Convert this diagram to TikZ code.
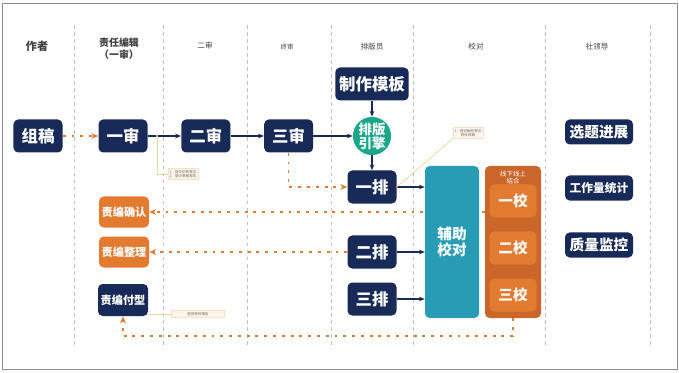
\documentclass[tikz,border=0pt]{standalone}
\usepackage{fontspec}
\newfontfamily\cjk{Noto Sans CJK SC}
\usepackage{xcolor}
\usetikzlibrary{positioning,arrows.meta}
\definecolor{pubnavy}{RGB}{24,42,88}
\definecolor{pubgreen}{RGB}{28,166,138}
\definecolor{pubteal}{RGB}{40,156,180}
\definecolor{puborange}{RGB}{226,122,48}
\definecolor{puborangedk}{RGB}{202,102,42}
\definecolor{pubnote}{RGB}{232,214,160}

\begin{document}
\begin{tikzpicture}[x=0.03cm,y=-0.03cm,node distance=1cm,>={Stealth[length=5pt,width=4pt]},font=\cjk]
\tikzstyle{box}=[fill=pubnavy,text=white,rounded corners=4pt,minimum width=1.47cm,minimum height=0.99cm,align=center,font=\cjk\bfseries\fontsize{14}{16}\selectfont]
\tikzstyle{sidebox}=[fill=pubnavy,text=white,rounded corners=4pt,minimum width=2.04cm,minimum height=0.75cm,inner sep=1pt]
\tikzstyle{edbox}=[fill=puborange,text=white,rounded corners=4pt,minimum width=1.5cm,minimum height=0.93cm,inner sep=1pt,font=\cjk\bfseries\fontsize{9.5}{11}\selectfont]
\tikzstyle{jiao}=[fill=puborange,text=white,rounded corners=4pt,minimum width=1.41cm,minimum height=0.99cm,font=\cjk\bfseries\fontsize{12.5}{14}\selectfont]
\tikzstyle{head}=[text=black!75,align=center]
\tikzstyle{lane}=[draw=black!25,dashed,line width=0.4pt]
\tikzstyle{navy}=[draw=pubnavy,line width=1pt,->]
\tikzstyle{flow}=[draw=puborange,line width=1.4pt,dash pattern=on 2.5pt off 5pt,-{Stealth[length=6pt,width=5pt]},color=puborange]
\tikzstyle{note}=[fill=orange!7,draw=orange!25,line width=0.3pt,inner sep=1.5pt,align=left,text=black!60,font=\cjk\fontsize{3}{3.6}\selectfont]
\tikzstyle{noteline}=[draw=pubnote,line width=0.6pt]
\useasboundingbox (0,0) rectangle (679,373);
\draw[black!45,line width=0.8pt] (2,3) rectangle (677,369);
% lanes
\foreach \x in {74,163,247,331,413,545,650}
  \draw[lane] (\x,25) -- (\x,345);
% headers
\node[head,font=\cjk\bfseries\fontsize{9.5}{11}\selectfont] (hzz) at (37,46) {作者};
\node[head,font=\cjk\bfseries\fontsize{8.5}{10}\selectfont] (hzr) at (119,49) {责任编辑\\（一审）};
\node[head,font=\cjk\fontsize{6.5}{8}\selectfont] (hes) at (205,46) {二审};
\node[head,font=\cjk\fontsize{5.5}{7}\selectfont] (hzs) at (287,47) {终审};
\node[head,font=\cjk\fontsize{6.5}{8}\selectfont] (hpb) at (372,47) {排版员};
\node[head,font=\cjk\fontsize{6.5}{8}\selectfont] (hjd) at (476,47) {校对};
\node[head,font=\cjk\fontsize{6.5}{8}\selectfont] (hsl) at (597,47) {社领导};
% main row
\node[box] (zugao) at (38,136) {组稿};
\node[box] (yishen) at (123,136) {一审};
\node[box,right=1cm of yishen] (ershen) {二审};
\node[box,right=1cm of ershen] (sanshen) {三审};
\node[box,minimum width=2.13cm] (muban) at (372,84) {制作模板};
\node[circle,fill=pubgreen,text=white,minimum size=1.14cm,inner sep=0pt,align=center,font=\cjk\bfseries\fontsize{11.5}{12}\selectfont] (yinqing) at (372,136) {排版\\引擎};
\node[box] (yipai) at (372,187) {一排};
\node[box] (erpai) at (372,252) {二排};
\node[box] (sanpai) at (372,299) {三排};
% proofreading
\node[fill=puborangedk,rounded corners=4pt,minimum width=1.68cm,minimum height=4.56cm] (jiaodui) at (513,242) {};
\node[text=white,align=center,font=\cjk\fontsize{5.5}{6}\selectfont,below=1pt of jiaodui.north] (jdtag) {线下线上\\结合};
\node[jiao] (yijiao) at (513,201) {一校};
\node[jiao] (erjiao) at (513,248) {二校};
\node[jiao] (sanjiao) at (513,295) {三校};
% editor side
\node[edbox] (queren) at (124,212) {责编确认};
\node[edbox] (zhengli) at (124,252) {责编整理};
\node[edbox,fill=pubnavy,minimum height=0.96cm] (fuxing) at (123,300) {责编付型};
% leadership
\node[sidebox,font=\cjk\bfseries\fontsize{12.5}{14}\selectfont] (xuanti) at (599,132) {选题进展};
\node[sidebox,font=\cjk\bfseries\fontsize{10}{12}\selectfont] (gongzuo) at (599,188) {工作量统计};
\node[sidebox,font=\cjk\bfseries\fontsize{12.5}{14}\selectfont] (zhiliang) at (599,245) {质量监控};
% dashed return flows
\draw[flow] (jiaodui.west |- queren.east) -- (queren.east);
\node[fill=pubteal,text=white,rounded corners=4pt,minimum width=1.62cm,minimum height=4.56cm,font=\cjk\bfseries\fontsize{12.5}{14}\selectfont,align=center] (fuzhu) at (452,242) {辅助\\校对};
\draw[flow] (erpai.west) -- (zhengli.east);
\draw[flow] (jiaodui.south) -- (jiaodui.south |- 0,336) -| (fuxing.south);
\draw[flow] (zugao) -- (yishen);
\draw[flow] (sanshen.south) |- (yipai.west);
% navy arrows
\draw[navy] (yishen) -- (ershen);
\draw[navy] (ershen) -- (sanshen);
\draw[navy] (sanshen) -- (yinqing);
\draw[navy] (muban) -- (yinqing);
\draw[navy] (yinqing) -- (yipai);
\draw[navy] (yipai.east) -- (yipai.east -| fuzhu.west);
\draw[navy] (erpai.east) -- (erpai.east -| fuzhu.west);
\draw[navy] (sanpai.east) -- (sanpai.east -| fuzhu.west);
% notes
\node[note] (note1) at (183,174) {1：提交初审意见\\2：提交审稿报告};
\node[note,align=center] (note2) at (468,133) {1：提供编校意见\\的修改稿};
\node[note,minimum width=1.6cm] (note3) at (198,314) {提供审校报告};
\coordinate (n1) at (157,136);
\draw[noteline] (n1) |- (note1.west);
\fill[pubnote] (n1) circle (1.2);
\draw[noteline] (yipai.east) -- (note2.south west);
\fill[puborange] (yipai.east) circle (1.2);
\draw[noteline] (fuxing.east |- note3.west) -- (note3.west);
\end{tikzpicture}
\end{document}
